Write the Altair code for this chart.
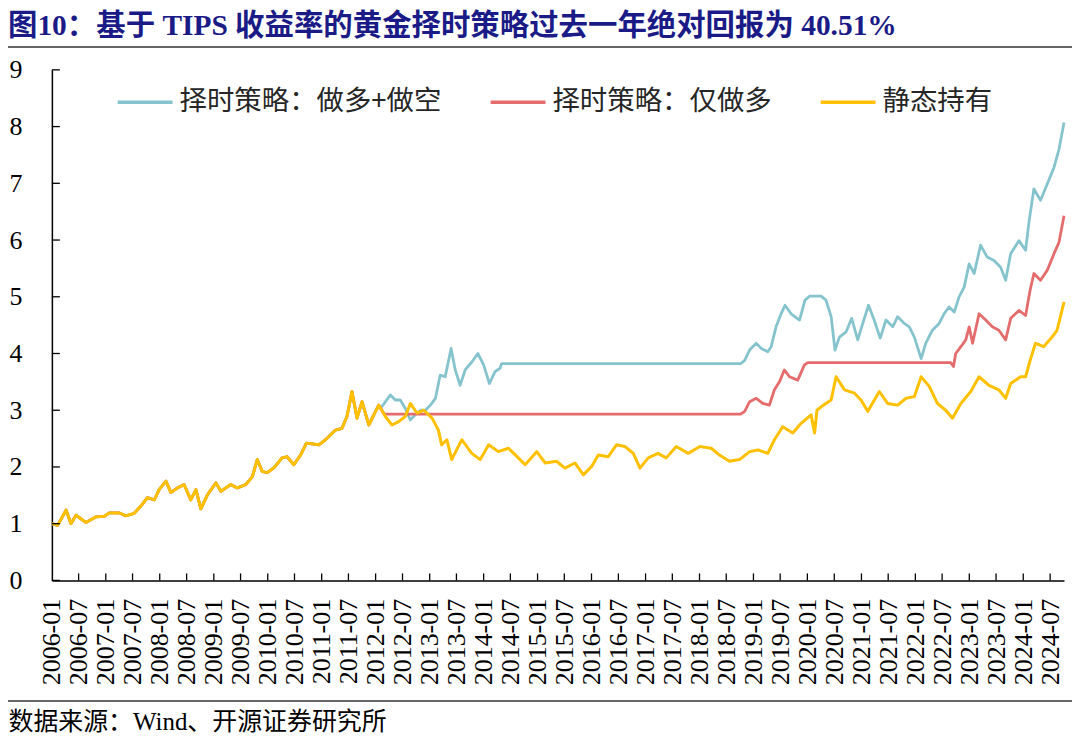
import altair as alt
import pandas as pd

TITLE = "图10：基于 TIPS 收益率的黄金择时策略过去一年绝对回报为 40.51%"
SOURCE = "数据来源：Wind、开源证券研究所"
SERIES = ["择时策略：做多+做空", "择时策略：仅做多", "静态持有"]
COLORS = ["#86C4CD", "#E46C6C", "#FFC000"]
SHARED_END = "2012-01-22"   # the two strategies equal static holding until here

# 静态持有
static_dates = [
    "2006-01-02", "2006-02-09", "2006-04-07", "2006-05-10", "2006-06-13", "2006-08-20", "2006-10-26", "2006-12-22",
    "2007-01-25", "2007-04-02", "2007-05-16", "2007-07-11", "2007-08-26", "2007-10-10", "2007-11-25", "2007-12-28",
    "2008-02-12", "2008-03-16", "2008-04-30", "2008-06-14", "2008-07-29", "2008-09-02", "2008-10-05", "2008-11-19",
    "2009-01-15", "2009-02-18", "2009-04-25", "2009-06-09", "2009-08-05", "2009-09-19", "2009-10-22", "2009-11-25",
    "2009-12-29", "2010-02-13", "2010-04-08", "2010-05-12", "2010-06-26", "2010-08-11", "2010-09-20", "2010-12-13",
    "2011-01-27", "2011-04-04", "2011-05-18", "2011-06-21", "2011-07-25", "2011-08-28", "2011-10-01", "2011-11-16",
    "2012-01-22", "2012-03-07", "2012-04-21", "2012-06-05", "2012-07-20", "2012-08-23", "2012-10-07", "2012-11-22",
    "2013-01-17", "2013-03-01", "2013-03-23", "2013-04-27", "2013-05-30", "2013-08-06", "2013-10-13", "2013-12-09",
    "2014-02-04", "2014-04-11", "2014-06-18", "2014-08-24", "2014-10-09", "2014-12-26", "2015-02-22", "2015-05-09",
    "2015-07-05", "2015-09-11", "2015-11-07", "2016-01-02", "2016-02-16", "2016-04-23", "2016-06-18", "2016-08-14",
    "2016-10-10", "2016-11-24", "2017-01-19", "2017-03-26", "2017-05-21", "2017-07-28", "2017-10-16", "2018-01-04",
    "2018-03-21", "2018-05-16", "2018-07-23", "2018-09-29", "2018-12-06", "2019-02-01", "2019-04-08", "2019-05-23",
    "2019-07-18", "2019-09-24", "2019-11-20", "2020-01-26", "2020-02-19", "2020-03-06", "2020-04-03", "2020-06-10",
    "2020-07-13", "2020-09-09", "2020-11-15", "2020-12-29", "2021-02-13", "2021-05-02", "2021-06-27", "2021-09-03",
    "2021-10-29", "2021-12-25", "2022-02-09", "2022-04-05", "2022-05-30", "2022-07-25", "2022-09-09", "2022-11-05",
    "2023-01-11", "2023-03-08", "2023-05-14", "2023-07-20", "2023-09-04", "2023-10-08", "2023-12-14", "2024-01-17",
    "2024-02-20", "2024-03-24", "2024-05-18", "2024-07-14", "2024-08-17", "2024-10-03",
]
static_values = [
    1.00, 0.97, 1.24, 1.00, 1.15, 1.02, 1.12, 1.13, 1.19, 1.19,
    1.14, 1.18, 1.31, 1.46, 1.42, 1.60, 1.75, 1.55, 1.63, 1.69,
    1.42, 1.60, 1.26, 1.51, 1.72, 1.57, 1.69, 1.63, 1.69, 1.83,
    2.13, 1.92, 1.90, 1.99, 2.16, 2.18, 2.04, 2.21, 2.42, 2.39,
    2.48, 2.65, 2.68, 2.89, 3.33, 2.86, 3.15, 2.74, 3.09, 2.89,
    2.74, 2.80, 2.89, 3.12, 2.95, 3.00, 2.86, 2.65, 2.39, 2.48,
    2.13, 2.48, 2.24, 2.13, 2.39, 2.27, 2.33, 2.16, 2.04, 2.27,
    2.07, 2.10, 1.98, 2.07, 1.86, 2.01, 2.21, 2.18, 2.39, 2.36,
    2.24, 1.98, 2.16, 2.24, 2.16, 2.36, 2.24, 2.36, 2.33, 2.21,
    2.10, 2.13, 2.27, 2.30, 2.24, 2.48, 2.71, 2.60, 2.77, 2.92,
    2.60, 3.00, 3.06, 3.18, 3.59, 3.36, 3.30, 3.18, 2.98, 3.33,
    3.12, 3.09, 3.21, 3.24, 3.59, 3.42, 3.12, 3.00, 2.86, 3.12,
    3.33, 3.59, 3.44, 3.36, 3.21, 3.47, 3.59, 3.59, 3.91, 4.18,
    4.12, 4.29, 4.41, 4.91,
]

# 择时策略：做多+做空 (after it departs from static holding)
long_short_dates = [
    "2012-02-03", "2012-04-10", "2012-05-13", "2012-06-16", "2012-07-20", "2012-08-23", "2012-09-26", "2012-10-30",
    "2012-12-03", "2013-01-06", "2013-02-09", "2013-03-13", "2013-04-16", "2013-05-26", "2013-06-23", "2013-07-26",
    "2013-08-29", "2013-10-13", "2013-11-23", "2014-01-01", "2014-02-09", "2014-03-19", "2014-04-22", "2014-05-03",
    "2018-10-06", "2018-11-03", "2018-12-06", "2019-01-20", "2019-02-23", "2019-04-08", "2019-05-01", "2019-06-03",
    "2019-07-07", "2019-08-03", "2019-09-13", "2019-11-09", "2019-12-16", "2020-01-16", "2020-04-03", "2020-05-06",
    "2020-06-10", "2020-07-06", "2020-08-05", "2020-09-19", "2020-10-27", "2020-12-07", "2021-01-10", "2021-02-18",
    "2021-03-28", "2021-05-08", "2021-06-16", "2021-08-01", "2021-09-03", "2021-10-18", "2021-11-21", "2021-12-25",
    "2022-02-09", "2022-03-12", "2022-04-26", "2022-06-11", "2022-07-14", "2022-08-17", "2022-09-21", "2022-10-24",
    "2022-11-27", "2022-12-31", "2023-02-03", "2023-03-18", "2023-05-02", "2023-06-17", "2023-08-01", "2023-09-04",
    "2023-10-08", "2023-12-03", "2024-01-17", "2024-02-10", "2024-03-13", "2024-04-27", "2024-06-12", "2024-07-27",
    "2024-08-30", "2024-10-03",
]
long_short_values = [
    3.03, 3.27, 3.18, 3.18, 3.03, 2.83, 2.92, 3.00,
    3.00, 3.09, 3.21, 3.62, 3.59, 4.09, 3.71, 3.44,
    3.71, 3.85, 4.00, 3.80, 3.47, 3.68, 3.74, 3.82,
    3.82, 3.88, 4.06, 4.18, 4.09, 4.03, 4.12, 4.47,
    4.70, 4.85, 4.70, 4.59, 4.94, 5.01, 5.01, 4.94,
    4.65, 4.06, 4.29, 4.38, 4.62, 4.24, 4.53, 4.85,
    4.59, 4.27, 4.59, 4.47, 4.65, 4.53, 4.47, 4.29,
    3.91, 4.18, 4.41, 4.53, 4.70, 4.82, 4.73, 5.00,
    5.17, 5.58, 5.41, 5.91, 5.70, 5.64, 5.52, 5.29,
    5.76, 5.99, 5.82, 6.34, 6.90, 6.70, 6.99, 7.28,
    7.60, 8.07,
]

# 择时策略：仅做多 (after it departs from static holding)
long_only_dates = [
    "2012-03-01", "2018-10-06", "2018-11-03", "2018-12-06", "2019-01-20", "2019-03-05", "2019-04-19", "2019-05-23",
    "2019-06-26", "2019-07-29", "2019-09-02", "2019-10-28", "2019-12-12", "2020-01-04", "2022-08-28", "2022-09-16",
    "2022-10-01", "2022-11-05", "2022-12-08", "2022-12-31", "2023-01-23", "2023-03-08", "2023-04-22", "2023-06-06",
    "2023-07-20", "2023-09-04", "2023-10-08", "2023-12-03", "2024-01-17", "2024-02-16", "2024-03-13", "2024-04-27",
    "2024-06-12", "2024-07-27", "2024-08-30", "2024-10-03",
]
long_only_values = [
    2.93, 2.93, 2.98, 3.15, 3.21, 3.12, 3.09, 3.36,
    3.50, 3.71, 3.59, 3.53, 3.80, 3.84, 3.84, 3.77,
    4.00, 4.12, 4.24, 4.47, 4.18, 4.70, 4.59, 4.47,
    4.41, 4.24, 4.62, 4.76, 4.67, 5.11, 5.41, 5.29,
    5.47, 5.76, 5.96, 6.43,
]

Y_TICKS = list(range(0, 10))
LABEL_MONTHS = [(y, m) for y in range(2006, 2025) for m in (1, 7)]

# ---------------------------------------------------------------- tables
static_df = pd.DataFrame({"date": pd.to_datetime(static_dates), "value": static_values, "series": SERIES[2]})
shared = static_df[static_df["date"] <= pd.Timestamp(SHARED_END)]
ls_df = pd.concat([shared.assign(series=SERIES[0]),
                   pd.DataFrame({"date": pd.to_datetime(long_short_dates), "value": long_short_values,
                                 "series": SERIES[0]})], ignore_index=True)
lo_df = pd.concat([shared.assign(series=SERIES[1]),
                   pd.DataFrame({"date": pd.to_datetime(long_only_dates), "value": long_only_values,
                                 "series": SERIES[1]})], ignore_index=True)
xtick_df = pd.DataFrame({"date": pd.to_datetime([f"{y}-{m:02d}-01" for y, m in LABEL_MONTHS[1:]])})
ytick_df = pd.DataFrame({"value": Y_TICKS})
one = pd.DataFrame({"k": [0]})

W, H = 1015, 512
SERIF = "Liberation Serif, Noto Sans CJK SC"
CJK = "Noto Sans CJK SC"

x_scale = alt.Scale(domain=[alt.DateTime(year=2006, month=1, date=1),
                            alt.DateTime(year=2024, month=10, date=3)])
y_scale = alt.Scale(domain=[0, 9], nice=False, zero=True)

x_axis = alt.Axis(
    values=[alt.DateTime(year=y, month=m, date=1) for y, m in LABEL_MONTHS],
    format="%Y-%m", labelAngle=270, labelFont="Liberation Serif", labelFontSize=26,
    labelColor="black", labelPadding=18, labelOverlap=False, labelFlush=False,
    tickSize=0, grid=False, domainColor="black", domainWidth=1.5,
    title=SOURCE, titleFont=SERIF, titleFontSize=25, titleFontWeight="normal",
    titleColor="black", titleX=-44, titleY=142, titleAlign="left", titleBaseline="middle",
)
y_axis = alt.Axis(
    values=Y_TICKS, labelFont="Liberation Serif", labelFontSize=26, labelColor="black",
    labelPadding=30, tickSize=0, grid=False, domainColor="black", domainWidth=1.5,
    title=None,
)
X = alt.X("date:T", scale=x_scale, axis=x_axis)
Y = alt.Y("value:Q", scale=y_scale, axis=y_axis)
color = alt.Color(
    "series:N",
    scale=alt.Scale(domain=SERIES, range=COLORS),
    legend=alt.Legend(
        title=None, orient="none", legendX=64, legendY=3, direction="horizontal",
        symbolType="stroke", symbolSize=3025, symbolStrokeWidth=3.5,
        labelFont=CJK, labelFontSize=27.5, labelColor="#262626", labelLimit=500,
        labelOffset=5, columnPadding=42, padding=0,
    ),
)


def line(df, width):
    return alt.Chart(df).mark_line(strokeWidth=width, strokeJoin="round").encode(
        x=X, y=Y, color=color,
    )


ytick = alt.Chart(ytick_df).mark_rule(color="black", strokeWidth=1.3).encode(
    y=Y, x=alt.value(0), x2=alt.value(8))
xtick = alt.Chart(xtick_df).mark_rule(color="black", strokeWidth=1.3).encode(
    x=X, y=alt.value(H - 7), y2=alt.value(H))
top_rule = alt.Chart(one).mark_rule(color="#333333", strokeWidth=1.5).encode(
    x=alt.value(-44), x2=alt.value(1023), y=alt.value(-23))
bottom_rule = alt.Chart(one).mark_rule(color="#333333", strokeWidth=1.5).encode(
    x=alt.value(-44), x2=alt.value(1023), y=alt.value(633))

chart = alt.layer(
    line(ls_df, 2.8), line(lo_df, 2.8), line(static_df, 3.0), ytick, xtick, top_rule, bottom_rule
).properties(
    width=W, height=H,
    autosize=alt.AutoSizeParams(type="none"),
    padding={"left": 44, "top": 61, "right": 8, "bottom": 157},
    title=alt.TitleParams(
        TITLE, anchor="start", frame="group", dx=-44, offset=5,
        font=SERIF, fontSize=29.5, fontWeight="bold", color="#1B1B87",
    ),
    background="white",
).configure_view(strokeOpacity=0)

chart.save("out.html", embed_options={"renderer": "svg", "actions": False})
